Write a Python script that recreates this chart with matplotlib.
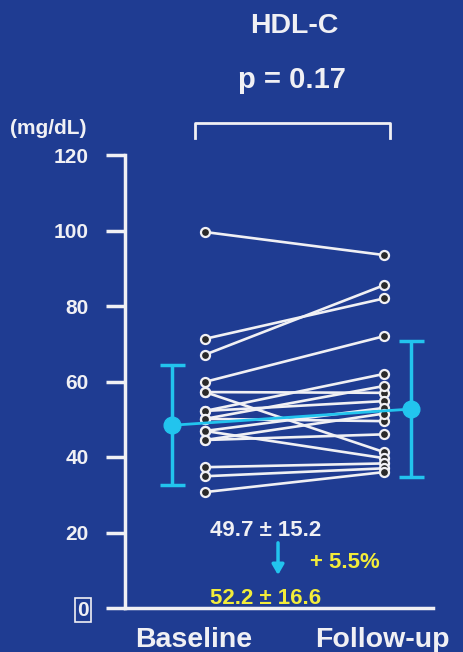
import matplotlib
matplotlib.use("Agg")
import matplotlib.pyplot as plt
import numpy as np

# data (mg/dL)
baseline = [99.6, 71.3, 67.1, 59.9, 57.2, 57.2, 52.2, 52.2, 50.1, 50.1,
            46.9, 46.9, 44.5, 44.5, 37.3, 34.9, 30.7]
followup = [93.5, 82.0, 85.5, 72.0, 57.0, 41.3, 62.0, 54.8, 58.8, 49.5,
            53.0, 39.7, 51.5, 46.0, 38.3, 37.0, 36.0]
groups = ["Baseline", "Follow-up"]
mean_vals = [48.4, 52.7]
sd_vals = [15.9, 17.9]
yticks = [0, 20, 40, 60, 80, 100, 120]

title = "HDL-C"
p_text = "p = 0.17"
unit = "(mg/dL)"
base_text = "49.7 \u00b1 15.2"
follow_text = "52.2 \u00b1 16.6"
change_text = "+ 5.5%"

bg = "#1f3c92"
fg = "#f0f0f4"
cyan = "#22c4ee"
yellow = "#f2ec3a"

plt.rcParams['font.family'] = ['Liberation Sans', 'DejaVu Sans']
plt.rcParams['font.weight'] = 'bold'

W, H = 464, 652
fig = plt.figure(figsize=(W / 100, H / 100), dpi=100, facecolor=bg)
ax = fig.add_axes([125 / W, 44 / H, 308 / W, 453 / H])
ax.set_facecolor(bg)

def px(x, y):
    # pixel position (from top-left) -> figure fraction
    return x / W, 1 - y / H

# paired lines
for b, f in zip(baseline, followup):
    ax.plot([0, 1], [b, f], color=fg, lw=1.9, zorder=3,
            marker="o", ms=6.5, mfc="#2a2a2a", mec=fg, mew=1.6)

# mean +/- sd
mean_x = [-0.187, 1.151]
ax.plot(mean_x, mean_vals, color=cyan, lw=2, zorder=4)
ax.errorbar(mean_x, mean_vals, yerr=sd_vals, fmt="o", color=cyan, ms=12,
            elinewidth=2.5, capsize=9, capthick=2.5, zorder=5)

ax.set_xlim(-0.447, 1.274)
ax.set_ylim(0, 120)
ax.set_yticks(yticks)
ax.set_yticklabels([str(t) for t in yticks])
ax.set_xticks([])
ax.tick_params(axis='y', length=14, width=2.5, color=fg, labelcolor=fg,
               labelsize=15, pad=12)
for lab in ax.get_yticklabels():
    lab.set_fontweight('bold')
ax.get_yticklabels()[0].set_bbox(dict(facecolor='none', edgecolor=fg, lw=1.2, pad=1.5))

for s in ['top', 'right']:
    ax.spines[s].set_visible(False)
for s in ['left', 'bottom']:
    ax.spines[s].set_color(fg)
    ax.spines[s].set_linewidth(2.5)

# group labels under the axis
for name, xl in zip(groups, [135, 315]):
    fig.text(*px(xl, 647), name, color=fg, fontsize=20.5, fontweight='bold',
             ha='left', va='baseline')

# bracket above the groups
ax.plot([-0.056, -0.056, 1.034, 1.034], [124.6, 128.5, 128.5, 124.6],
        color=fg, lw=2, clip_on=False)

# summary text
fig.text(*px(210, 536), base_text, color=fg, fontsize=16, fontweight='bold',
         ha='left', va='baseline')
fig.text(*px(210, 604), follow_text, color=yellow, fontsize=16, fontweight='bold',
         ha='left', va='baseline')
fig.text(*px(310, 568), change_text, color=yellow, fontsize=16, fontweight='bold',
         ha='left', va='baseline')
ax.annotate("", xy=(0.408, 8.0), xytext=(0.408, 18.0),
            arrowprops=dict(arrowstyle="-|>,head_width=0.35,head_length=0.6",
                            color=cyan, lw=2.5))

fig.text(*px(294, 33), title, color=fg, fontsize=20.5,
         fontweight='bold', ha='center', va='baseline')
fig.text(*px(292, 88), p_text, color=fg, fontsize=21,
         fontweight='bold', ha='center', va='baseline')
fig.text(*px(10, 134), unit, color=fg, fontsize=15,
         fontweight='bold', ha='left', va='baseline')

fig.savefig("out.png", dpi=100, facecolor=bg)
